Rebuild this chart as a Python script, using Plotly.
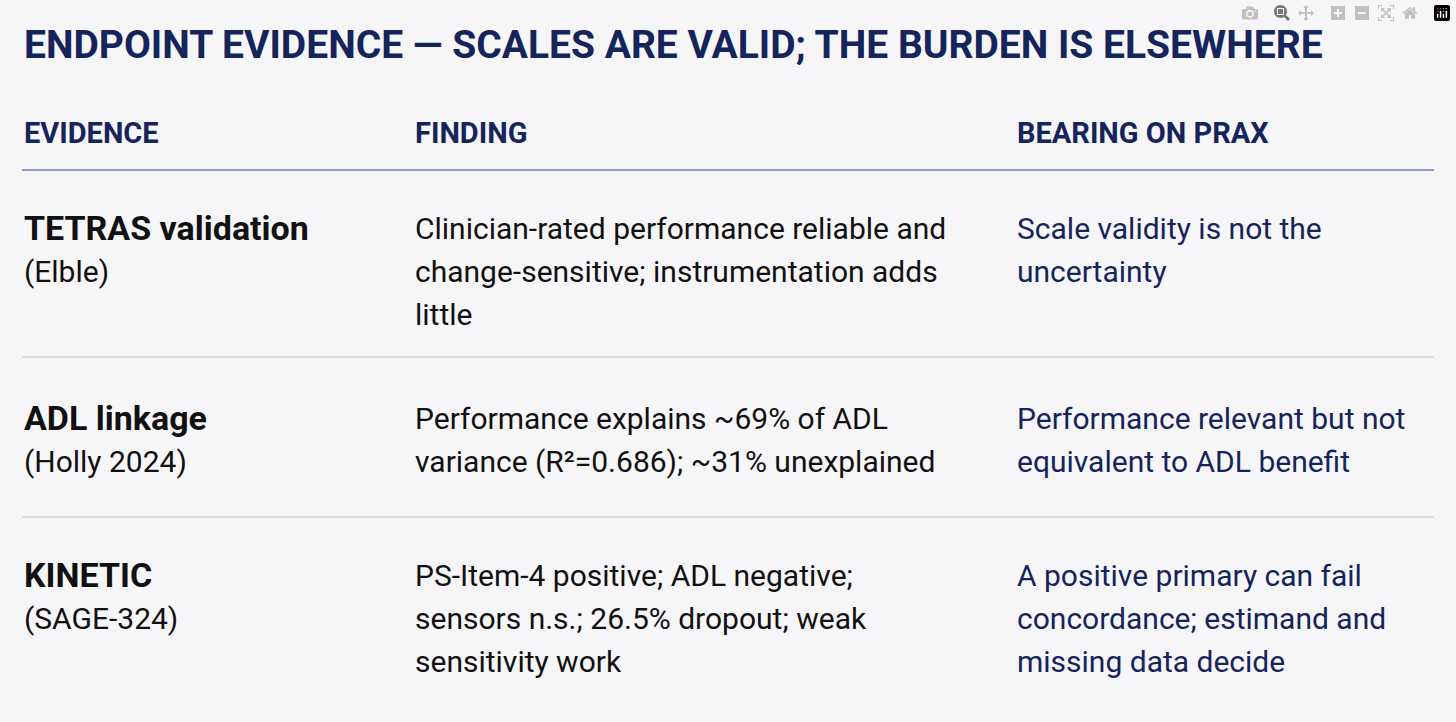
import plotly.graph_objects as go

W, H = 1456, 722
NAVY = "#15245a"
INK = "#111111"

title = "ENDPOINT EVIDENCE — SCALES ARE VALID; THE BURDEN IS ELSEWHERE"
headers = ["EVIDENCE", "FINDING", "BEARING ON PRAX"]
evidence = ["TETRAS validation", "ADL linkage", "KINETIC"]
sources = ["(Elble)", "(Holly 2024)", "(SAGE-324)"]
findings = [
    ["Clinician-rated performance reliable and", "change-sensitive; instrumentation adds", "little"],
    ["Performance explains ~69% of ADL", "variance (R²=0.686); ~31% unexplained"],
    ["PS-Item-4 positive; ADL negative;", "sensors n.s.; 26.5% dropout; weak", "sensitivity work"],
]
bearing = [
    ["Scale validity is not the", "uncertainty"],
    ["Performance relevant but not", "equivalent to ADL benefit"],
    ["A positive primary can fail", "concordance; estimand and", "missing data decide"],
]

col_x = [22, 413, 1015]
row_top = [228, 418, 575]
line_gap = 43
separators = [357, 517]

def px(x, y):
    return x / W, 1 - y / H

fig = go.Figure()
ann = []

def add(text, x, y, size, color, bold=False, family="Roboto"):
    ax, ay = px(x, y)
    ann.append(dict(text=f"<b>{text}</b>" if bold else text, x=ax, y=ay,
                    xref="paper", yref="paper", xanchor="left", yanchor="middle",
                    showarrow=False, font=dict(size=size, color=color, family=family)))

add(title, 22, 45, 39, NAVY, bold=True)
for i, h in enumerate(headers):
    add(h, col_x[i], 133, 29, NAVY, bold=True)

for r in range(3):
    y0 = row_top[r]
    add(evidence[r], col_x[0], y0, 34, INK, bold=True)
    add(sources[r], col_x[0], y0 + line_gap, 30, INK)
    for k, line in enumerate(findings[r]):
        add(line, col_x[1], y0 + k * line_gap, 30, INK)
    for k, line in enumerate(bearing[r]):
        add(line, col_x[2], y0 + k * line_gap, 30, NAVY)

shapes = []
def hline(y, color, width):
    _, yy = px(0, y)
    shapes.append(dict(type="line", xref="paper", yref="paper", x0=22 / W, x1=1434 / W,
                       y0=yy, y1=yy, line=dict(color=color, width=width)))

hline(170, "#8ea0c9", 2)
for s in separators:
    hline(s, "#d6d6d9", 1.5)

fig.update_layout(width=W, height=H, margin=dict(l=0, r=0, t=0, b=0),
                  paper_bgcolor="#f6f6f8", plot_bgcolor="#f6f6f8",
                  xaxis=dict(visible=False), yaxis=dict(visible=False),
                  annotations=ann, shapes=shapes)
fig.write_html("out.html", post_script="document.body.style.margin='0';")
